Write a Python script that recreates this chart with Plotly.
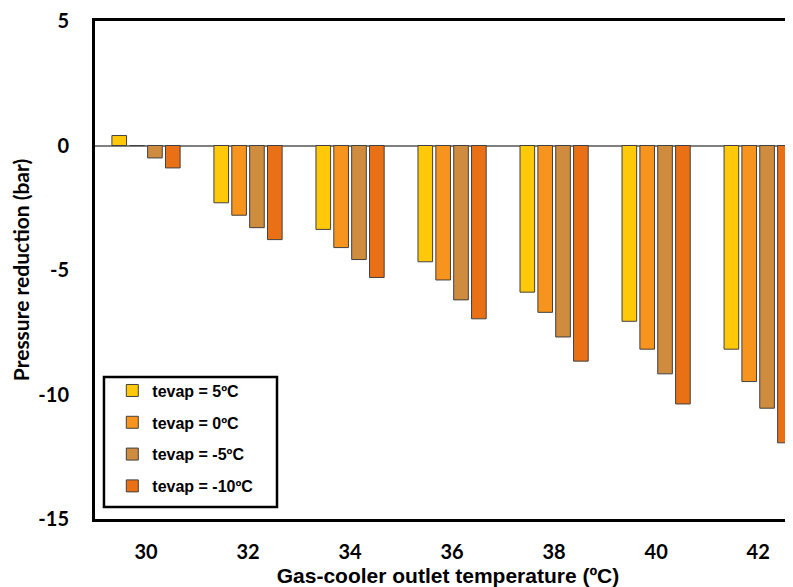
import plotly.graph_objects as go

categories = ["30", "32", "34", "36", "38", "40", "42"]
series_names = ["tevap = 5ºC", "tevap = 0ºC", "tevap = -5ºC", "tevap = -10ºC"]
tevap_5 = [0.4, -2.3, -3.37, -4.67, -5.89, -7.06, -8.18]
tevap_0 = [0.0, -2.8, -4.1, -5.4, -6.7, -8.18, -9.48]
tevap_m5 = [-0.5, -3.3, -4.58, -6.2, -7.69, -9.17, -10.55]
tevap_m10 = [-0.9, -3.78, -5.3, -6.96, -8.66, -10.38, -11.94]
y_ticks = [5, 0, -5, -10, -15]
y_tick_labels = ["5", "0", "-5", "-10", "-15"]

colors = ["#FFC90A", "#F7941D", "#CF8B3E", "#EA7016"]
series = [tevap_5, tevap_0, tevap_m5, tevap_m10]

narrow = "Liberation Sans Narrow, Arial Narrow, Liberation Sans, Arial"
calib = "Lato, Open Sans, sans-serif"
fig = go.Figure()
for i, (name, vals) in enumerate(zip(series_names, series)):
    fig.add_trace(go.Bar(
        x=categories, y=vals, name=name, legendgroup=f"g{i}",
        marker=dict(color=colors[i], line=dict(color="#404040", width=1)),
    ))

# legend frame
fig.add_shape(type="rect", xref="paper", yref="paper",
              x0=0.0127, x1=0.2578, y0=0.024, y1=0.285,
              line=dict(color="black", width=2.5), fillcolor="white", layer="above")

fig.update_layout(
    width=793, height=587,
    margin=dict(l=87, r=0, t=13, b=76),
    plot_bgcolor="white", paper_bgcolor="white",
    barmode="group", bargap=0.3, bargroupgap=0.18,
    showlegend=True,
    legend=dict(
        x=0.0245, y=0.292, xanchor="left", yanchor="top",
        bgcolor="rgba(0,0,0,0)", borderwidth=0,
        font=dict(family=narrow, size=16, color="black", weight="bold"),
        tracegroupgap=8, traceorder="grouped", itemwidth=30,
    ),
    xaxis=dict(
        type="category", range=[-0.5, 6.42], automargin=False,
        showline=True, linecolor="black", linewidth=3, mirror=True,
        ticks="outside", tickcolor="white", ticklen=13,
        tickfont=dict(family=calib, size=20, color="black", weight="bold"),
        title=dict(text="Gas-cooler outlet temperature (ºC)", standoff=7,
                   font=dict(family=narrow, size=21, color="black", weight="bold")),
        showgrid=False,
    ),
    yaxis=dict(
        range=[-15, 5], tickvals=y_ticks, ticktext=y_tick_labels, automargin=False,
        ticklabeloverflow="allow",
        showline=True, linecolor="black", linewidth=3, mirror=True,
        ticks="outside", tickcolor="white", ticklen=19,
        tickfont=dict(family=calib, size=20, color="black", weight="bold"),
        title=dict(text="Pressure reduction (bar)", standoff=6,
                   font=dict(family=calib, size=21, color="black", weight="bold")),
        showgrid=False,
        zeroline=True, zerolinecolor="#808080", zerolinewidth=1.5,
    ),
)

fig.write_html("out.html")
